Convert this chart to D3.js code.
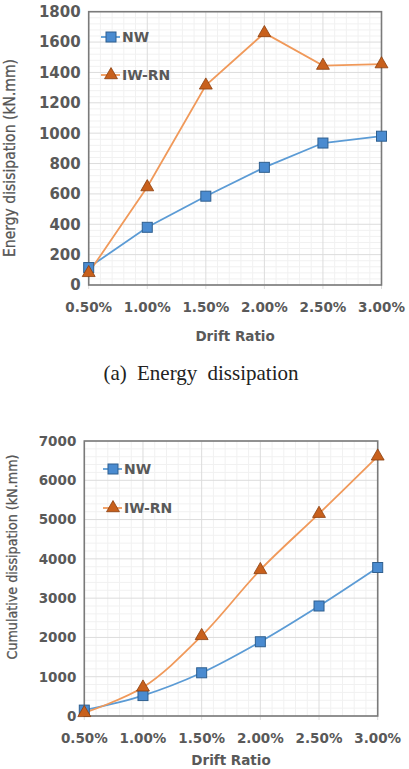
<!DOCTYPE html>
<html>
<head>
<meta charset="utf-8">
<script src="https://cdn.jsdelivr.net/npm/d3@7"></script>
<style>
  html, body { margin: 0; padding: 0; background: #fff; }
  svg { display: block; }
</style>
</head>
<body>
<div id="chart"></div>
<script>
// drift ratio categories (shared by both panels)
const driftLabels = ['0.50%', '1.00%', '1.50%', '2.00%', '2.50%', '3.00%'];
const seriesNames = ['NW', 'IW-RN'];

// (a) energy dissipation per cycle, kN.mm
const energyNW = [115, 380, 585, 775, 935, 980];
const energyIWRN = [80, 645, 1315, 1660, 1445, 1455];
const energyTicks = [0, 200, 400, 600, 800, 1000, 1200, 1400, 1600, 1800];

// (b) cumulative dissipation, kN.mm
const cumNW = [150, 520, 1100, 1890, 2800, 3780];
const cumIWRN = [80, 730, 2040, 3720, 5150, 6610];
const cumTicks = [0, 1000, 2000, 3000, 4000, 5000, 6000, 7000];

const W = 409, H = 769;
const grey = '#595959';
const blue = '#5b9bd5', blueMark = '#4a8bd0', blueEdge = '#2f5f8f';
const orange = '#f0995a', orangeMark = '#c8601c', orangeEdge = '#8a3d0c';

const svg = d3.select('#chart').append('svg')
  .attr('width', W)
  .attr('height', H);

function drawPanel(cfg) {
  const g = svg.append('g');
  const x = d3.scalePoint(driftLabels, [cfg.left, cfg.right]).padding(0);
  const y = d3.scaleLinear([0, cfg.ticks[cfg.ticks.length - 1]], [cfg.bottom, cfg.top]);
  const step = cfg.ticks[1] - cfg.ticks[0];

  // minor grid
  const minorY = d3.range(0, y.domain()[1], step / 5).filter(v => v % step !== 0);
  g.selectAll('.minor-y').data(minorY).join('line')
    .attr('x1', cfg.left).attr('x2', cfg.right)
    .attr('y1', d => y(d)).attr('y2', d => y(d))
    .attr('stroke', '#f1f1f1');
  const dx = x.step() / 5;
  const minorX = [];
  driftLabels.slice(0, -1).forEach(c => { for (let i = 1; i < 5; i++) minorX.push(x(c) + i * dx); });
  g.selectAll('.minor-x').data(minorX).join('line')
    .attr('x1', d => d).attr('x2', d => d)
    .attr('y1', cfg.top).attr('y2', cfg.bottom)
    .attr('stroke', '#f1f1f1');

  // major grid
  g.selectAll('.major-y').data(cfg.ticks).join('line')
    .attr('x1', cfg.left).attr('x2', cfg.right)
    .attr('y1', d => y(d)).attr('y2', d => y(d))
    .attr('stroke', '#dcdcdc');
  g.selectAll('.major-x').data(driftLabels).join('line')
    .attr('x1', d => x(d)).attr('x2', d => x(d))
    .attr('y1', cfg.top).attr('y2', cfg.bottom + 4)
    .attr('stroke', '#dcdcdc');

  // plot frame
  g.append('rect')
    .attr('x', cfg.left).attr('y', cfg.top)
    .attr('width', cfg.right - cfg.left).attr('height', cfg.bottom - cfg.top)
    .attr('fill', 'none')
    .attr('stroke', '#7a7a7a')
    .attr('stroke-width', 1.6);

  // tick labels
  g.selectAll('.ylab').data(cfg.ticks).join('text')
    .attr('x', cfg.left - 8)
    .attr('y', d => y(d))
    .attr('dy', '0.36em')
    .attr('text-anchor', 'end')
    .attr('font-family', 'DejaVu Sans')
    .attr('font-weight', 'bold')
    .attr('font-size', cfg.yTickSize)
    .attr('fill', grey)
    .text(d => d);
  g.selectAll('.xlab').data(driftLabels).join('text')
    .attr('x', d => x(d))
    .attr('y', cfg.bottom + 22)
    .attr('dy', '0.36em')
    .attr('text-anchor', 'middle')
    .attr('font-family', 'DejaVu Sans')
    .attr('font-weight', 'bold')
    .attr('font-size', 13.5)
    .attr('fill', grey)
    .text(d => d);

  // axis titles
  g.append('text')
    .attr('x', (cfg.left + cfg.right) / 2)
    .attr('y', cfg.xTitleY)
    .attr('dy', '0.36em')
    .attr('text-anchor', 'middle')
    .attr('font-family', 'DejaVu Sans')
    .attr('font-weight', 'bold')
    .attr('font-size', 13.5)
    .attr('fill', grey)
    .text('Drift Ratio');
  g.append('text')
    .attr('transform', `translate(${cfg.yTitleX},${cfg.yTitleY}) rotate(-90)`)
    .attr('dy', '0.36em')
    .attr('text-anchor', 'middle')
    .attr('font-family', 'DejaVu Sans')
    .attr('font-size', cfg.yTitleSize)
    .attr('textLength', cfg.yTitleLen)
    .attr('lengthAdjust', 'spacingAndGlyphs')
    .attr('fill', '#555')
    .attr('stroke', '#555')
    .attr('stroke-width', 0.3)
    .text(cfg.yTitle);

  // series
  const line = d3.line()
    .x((d, i) => x(driftLabels[i]))
    .y(d => y(d))
    .curve(cfg.curve);
  const tri = d3.symbol(d3.symbolTriangle, 72);

  [[cfg.nw, blue], [cfg.iw, orange]].forEach(([vals, col]) => {
    g.append('path')
      .attr('d', line(vals))
      .attr('fill', 'none')
      .attr('stroke', col)
      .attr('stroke-width', 1.8);
  });
  g.selectAll('.sq').data(cfg.nw).join('rect')
    .attr('x', (d, i) => x(driftLabels[i]) - 5)
    .attr('y', d => y(d) - 5)
    .attr('width', 10).attr('height', 10)
    .attr('fill', blueMark)
    .attr('stroke', blueEdge)
    .attr('stroke-width', 1);
  g.selectAll('.tri').data(cfg.iw).join('path')
    .attr('transform', (d, i) => `translate(${x(driftLabels[i])},${y(d)})`)
    .attr('d', tri)
    .attr('fill', orangeMark)
    .attr('stroke', orangeEdge)
    .attr('stroke-width', 0.8);

  // legend
  seriesNames.forEach((name, i) => {
    const ly = cfg.legendY[i];
    const lx = cfg.legendX;
    const col = i === 0 ? blue : orange;
    g.append('line')
      .attr('x1', lx - 10).attr('x2', lx + 9)
      .attr('y1', ly).attr('y2', ly)
      .attr('stroke', col).attr('stroke-width', 1.8);
    if (i === 0) {
      g.append('rect')
        .attr('x', lx - 5).attr('y', ly - 5)
        .attr('width', 10).attr('height', 10)
        .attr('fill', blueMark).attr('stroke', blueEdge);
    } else {
      g.append('path')
        .attr('transform', `translate(${lx},${ly})`)
        .attr('d', tri)
        .attr('fill', orangeMark).attr('stroke', orangeEdge).attr('stroke-width', 0.8);
    }
    g.append('text')
      .attr('x', lx + 11)
      .attr('y', ly)
      .attr('dy', '0.36em')
      .attr('font-family', 'DejaVu Sans')
      .attr('font-weight', 'bold')
      .attr('font-size', 14)
      .attr('fill', grey)
      .text(name);
  });
  return g;
}

drawPanel({
  left: 88.7, right: 381.5, top: 11.7, bottom: 285,
  ticks: energyTicks, nw: energyNW, iw: energyIWRN,
  yTickSize: 15, curve: d3.curveLinear, xTitleY: 336,
  yTitle: 'Energy disisipation (kN.mm)', yTitleX: 10, yTitleY: 158, yTitleSize: 15, yTitleLen: 198,
  legendX: 111, legendY: [37, 75]
});

drawPanel({
  left: 84.3, right: 377.7, top: 441, bottom: 716,
  ticks: cumTicks, nw: cumNW, iw: cumIWRN,
  yTickSize: 13.5, curve: d3.curveCatmullRom, xTitleY: 760,
  yTitle: 'Cumulative dissipation (kN.mm)', yTitleX: 12, yTitleY: 557, yTitleSize: 14, yTitleLen: 205,
  legendX: 113, legendY: [469, 508]
});

// caption of panel (a)
svg.append('text')
  .attr('x', 201)
  .attr('y', 372)
  .attr('dy', '0.36em')
  .attr('text-anchor', 'middle')
  .attr('font-family', 'Liberation Serif')
  .attr('font-size', 21)
  .attr('word-spacing', 5)
  .attr('fill', '#222')
  .text('(a) Energy dissipation');
</script>
</body>
</html>
